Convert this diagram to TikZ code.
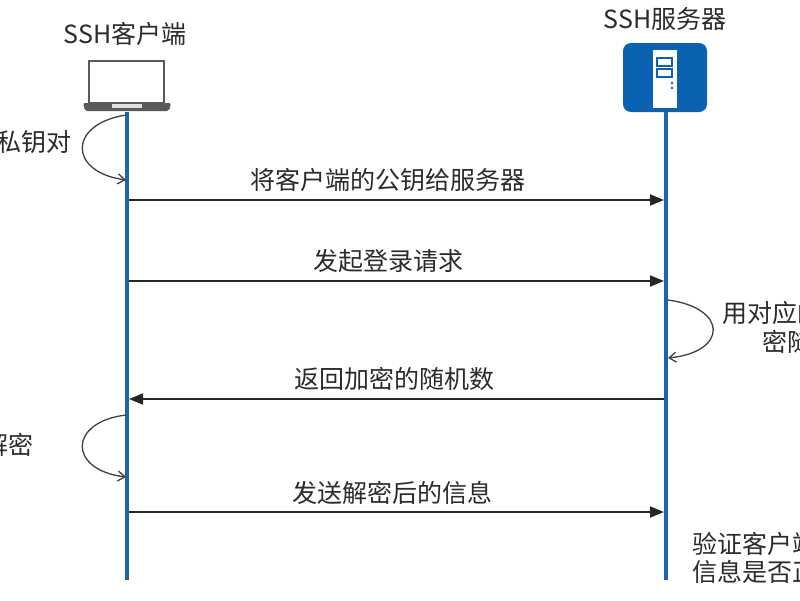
\documentclass[tikz,border=0pt]{standalone}
\usepackage{fontspec}
\setmainfont{Noto Sans CJK SC}
\usetikzlibrary{arrows.meta}
\definecolor{lifeblue}{HTML}{1F63AA}
\definecolor{srvblue}{HTML}{0B62B0}
\definecolor{txtgray}{HTML}{2B2B2B}
\definecolor{lapgray}{HTML}{5A5A5A}
\tikzset{
  lifeline/.style={lifeblue, line width=3.5pt},
  msg/.style={black!85, line width=1.8pt, -{Triangle[length=14pt,width=11pt]}},
  selfloop/.style={black!75, line width=1.3pt, -{Straight Barb[length=7pt,width=10pt]}},
  lbl/.style={text=txtgray, inner sep=0pt, font=\fontsize{25}{29}\selectfont},
  head/.style={text=txtgray, inner sep=0pt, font=\fontsize{25}{29}\selectfont},
}
\begin{document}
\begin{tikzpicture}[x=1pt,y=-1pt]
\useasboundingbox (0,0) rectangle (800,600);
\fill[white] (0,0) rectangle (800,600);

% headers
\node[head] (hc) at (125,34) {SSH客户端};
\node[head] (hs) at (665,19) {SSH服务器};

% laptop
\draw[lapgray, line width=2.4pt] (89,61) rectangle (164,103);
\fill[lapgray, rounded corners=2pt] (83,103) -- (171,103) -- (169,111) -- (85,111) -- cycle;
\fill[black!12] (112,104) rectangle (142,108);

% server
\fill[srvblue, rounded corners=8pt] (623,43) rectangle (707,112);
\fill[white] (653,50) rectangle (677,108);
\draw[srvblue, line width=1.3pt] (657,58) rectangle (672,66);
\draw[srvblue, line width=1.3pt] (657,69) rectangle (672,77);
\fill[srvblue] (672,83) circle (1.3);
\fill[srvblue] (672,88) circle (1.3);

% lifelines
\coordinate (ctop) at (127,112);
\coordinate (cbot) at (127,580);
\coordinate (stop) at (666,112);
\coordinate (sbot) at (666,580);
\draw[lifeline] (ctop) -- (cbot);
\draw[lifeline] (stop) -- (sbot);

% message points
\coordinate (c1) at (129,200); \coordinate (s1) at (664,200);
\coordinate (c2) at (129,281); \coordinate (s2) at (664,281);
\coordinate (c3) at (129,399); \coordinate (s3) at (664,399);
\coordinate (c4) at (129,512); \coordinate (s4) at (664,512);

\draw[msg] (c1) -- (s1);
\draw[msg] (c2) -- (s2);
\draw[msg] (s3) -- (c3);
\draw[msg] (c4) -- (s4);

\node[lbl] (m1) at (388,180) {将客户端的公钥给服务器};
\node[lbl] (m2) at (388,261) {发起登录请求};
\node[lbl] (m3) at (394,379) {返回加密的随机数};
\node[lbl] (m4) at (392,493) {发送解密后的信息};

% self loops
\coordinate (l1a) at (126,115); \coordinate (l1b) at (126,180);
\draw[selfloop] (l1a) .. controls (68,124) and (68,172) .. (l1b);
\coordinate (l2a) at (668,300); \coordinate (l2b) at (668,358);
\draw[selfloop] (l2a) .. controls (728,308) and (728,352) .. (l2b);
\coordinate (l3a) at (126,415); \coordinate (l3b) at (126,477);
\draw[selfloop] (l3a) .. controls (68,422) and (68,470) .. (l3b);

% side notes (cut off by the picture edge, as in the reference)
\node[lbl, anchor=east] (n1) at (72,142) {私钥对};
\node[lbl, anchor=west] (n2) at (722,313) {用对应的};
\node[lbl, anchor=west] (n3) at (762,342) {密随机};
\node[lbl, anchor=east] (n4) at (34,445) {解密};
\node[lbl, anchor=west] (n5) at (692,544) {验证客户端};
\node[lbl, anchor=west] (n6) at (692,572) {信息是否正};
\end{tikzpicture}
\end{document}
